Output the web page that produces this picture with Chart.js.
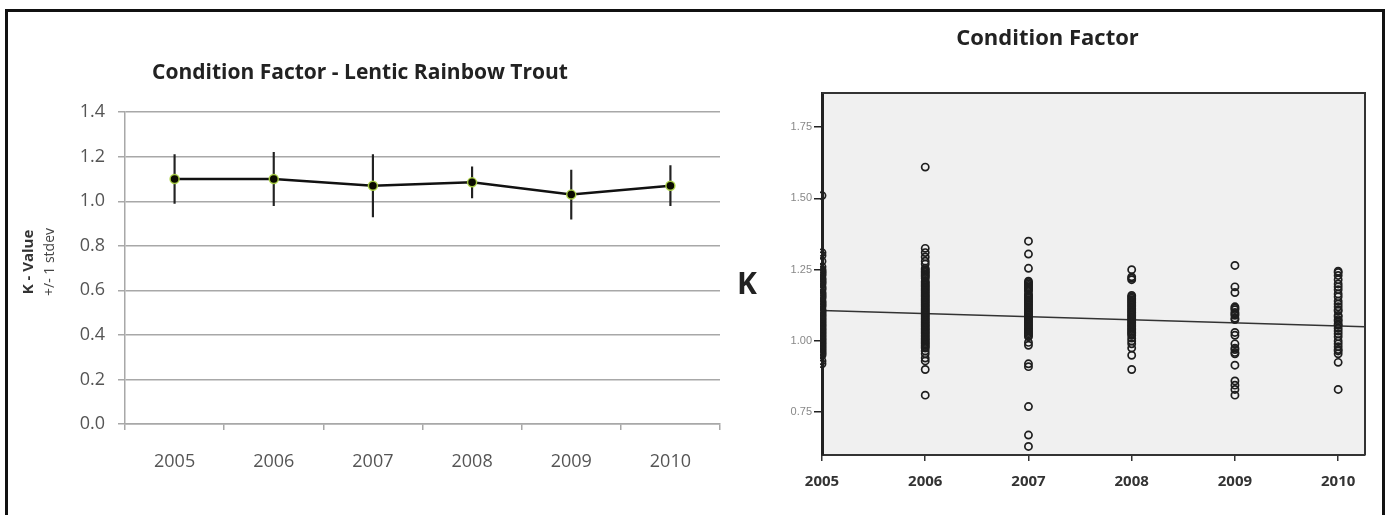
<!DOCTYPE html>
<html><head><meta charset="utf-8">
<script src="https://cdn.jsdelivr.net/npm/chart.js@4.4.1/dist/chart.umd.min.js"></script>
<style>
html,body{margin:0;padding:0;background:#fff;}
body{width:1389px;height:515px;position:relative;overflow:hidden;}
#frame{position:absolute;left:5px;top:9px;width:1380px;height:520px;border:3px solid #111;box-sizing:border-box;pointer-events:none;}
#c1{position:absolute;left:0;top:0;}
#c2{position:absolute;left:730px;top:0;}
</style></head><body>
<canvas id="c1" width="730" height="515"></canvas>
<canvas id="c2" width="654" height="515"></canvas>
<div id="frame"></div>
<script>
// ---------- Left chart data ----------
const years = ['2005', '2006', '2007', '2008', '2009', '2010'];
const meanK = [1.10, 1.10, 1.07, 1.085, 1.03, 1.07];
const sdK = [0.11, 0.12, 0.14, 0.07, 0.11, 0.09];
const leftTitle = 'Condition Factor - Lentic Rainbow Trout';
const leftYTitleMain = 'K - Value';
const leftYTitleSub = '+/- 1 stdev';

// ---------- Right chart data ----------
const rightTitle = 'Condition Factor';
const rightYTitle = 'K';
const scatterYears = [2005, 2006, 2007, 2008, 2009, 2010];
const k2005 = [1.51, 1.31, 1.30, 1.28, 1.26, 1.25, 1.245, 1.24, 1.235, 1.23, 1.22, 1.215, 1.21, 1.205, 1.20, 1.19, 1.185, 1.18, 1.17, 1.165, 1.16, 1.155, 1.15, 1.14, 1.135, 1.13, 1.125, 1.12, 1.11, 1.105, 1.10, 1.095, 1.09, 1.085, 1.08, 1.075, 1.07, 1.065, 1.06, 1.055, 1.05, 1.045, 1.04, 1.035, 1.03, 1.025, 1.02, 1.015, 1.01, 1.005, 1.00, 0.995, 0.99, 0.985, 0.98, 0.975, 0.97, 0.965, 0.96, 0.955, 0.95, 0.93, 0.92];
const k2006 = [1.61, 1.325, 1.31, 1.295, 1.28, 1.27, 1.255, 1.25, 1.245, 1.24, 1.235, 1.23, 1.225, 1.22, 1.21, 1.205, 1.20, 1.195, 1.19, 1.185, 1.18, 1.175, 1.17, 1.165, 1.16, 1.155, 1.15, 1.145, 1.14, 1.135, 1.13, 1.125, 1.12, 1.115, 1.11, 1.105, 1.10, 1.095, 1.09, 1.085, 1.08, 1.075, 1.07, 1.065, 1.06, 1.055, 1.05, 1.045, 1.04, 1.035, 1.03, 1.025, 1.02, 1.015, 1.01, 1.005, 1.00, 0.995, 0.99, 0.985, 0.98, 0.975, 0.965, 0.955, 0.94, 0.93, 0.90, 0.81];
const k2007 = [1.35, 1.305, 1.255, 1.21, 1.205, 1.20, 1.195, 1.19, 1.185, 1.18, 1.175, 1.165, 1.16, 1.155, 1.15, 1.145, 1.14, 1.135, 1.13, 1.125, 1.12, 1.115, 1.11, 1.105, 1.10, 1.095, 1.09, 1.085, 1.08, 1.075, 1.07, 1.065, 1.06, 1.055, 1.05, 1.045, 1.04, 1.035, 1.03, 1.025, 1.02, 1.015, 0.995, 0.985, 0.92, 0.91, 0.77, 0.67, 0.63];
const k2008 = [1.25, 1.225, 1.22, 1.215, 1.16, 1.155, 1.15, 1.145, 1.14, 1.135, 1.13, 1.125, 1.12, 1.115, 1.11, 1.105, 1.10, 1.095, 1.09, 1.085, 1.08, 1.075, 1.07, 1.065, 1.06, 1.055, 1.05, 1.045, 1.04, 1.035, 1.03, 1.025, 1.02, 1.01, 1.00, 0.99, 0.975, 0.95, 0.90];
const k2009 = [1.265, 1.19, 1.17, 1.12, 1.115, 1.11, 1.10, 1.095, 1.09, 1.08, 1.075, 1.03, 1.02, 0.99, 0.975, 0.97, 0.96, 0.955, 0.915, 0.86, 0.845, 0.83, 0.81];
const k2010 = [1.245, 1.24, 1.23, 1.215, 1.20, 1.19, 1.18, 1.165, 1.155, 1.14, 1.13, 1.12, 1.11, 1.105, 1.09, 1.085, 1.075, 1.07, 1.06, 1.055, 1.045, 1.035, 1.025, 1.015, 1.00, 0.99, 0.98, 0.97, 0.965, 0.955, 0.925, 0.83];
const fitX = [2005, 2010.26];
const fitK = [1.107, 1.050];
const rightYTicks = [0.75, 1.00, 1.25, 1.50, 1.75];

const FONT = 'Open Sans';

// ---------- Left chart ----------
const leftAxisTitle = {
  id: 'leftAxisTitle',
  afterDraw(chart) {
    const ctx = chart.ctx;
    ctx.save();
    ctx.textAlign = 'center';
    ctx.textBaseline = 'middle';
    ctx.translate(29, 262);
    ctx.rotate(-Math.PI / 2);
    ctx.font = 'bold 15px "' + FONT + '"';
    ctx.fillStyle = '#333';
    ctx.fillText(leftYTitleMain, 0, 0);
    ctx.restore();
    ctx.save();
    ctx.textAlign = 'center';
    ctx.textBaseline = 'middle';
    ctx.translate(50, 262);
    ctx.rotate(-Math.PI / 2);
    ctx.font = '14px "' + FONT + '"';
    ctx.fillStyle = '#444';
    ctx.fillText(leftYTitleSub, 0, 0);
    ctx.restore();
  }
};

const gridGray = '#a8a8a8';
new Chart(document.getElementById('c1'), {
  data: {
    labels: years,
    datasets: [
      {
        type: 'line', data: meanK, borderColor: '#111', borderWidth: 2.5, tension: 0,
        pointRadius: 4.5, pointBackgroundColor: '#0a0a00',
        pointBorderColor: 'rgba(175,215,70,0.9)', pointBorderWidth: 1.5, order: 0
      },
      {
        type: 'bar', data: meanK.map((m, i) => [m - sdK[i], m + sdK[i]]),
        backgroundColor: '#222', barThickness: 1.5, order: 1
      }
    ]
  },
  options: {
    responsive: false, animation: false, events: [],
    layout: { padding: { left: 0, right: 10, top: 0, bottom: 0 } },
    plugins: {
      legend: { display: false }, tooltip: { enabled: false },
      title: {
        display: true, text: leftTitle, color: '#222',
        font: { family: FONT, size: 21, weight: 'bold' },
        padding: { top: 60, bottom: 27 }
      }
    },
    scales: {
      x: {
        offset: true,
        grid: { offset: true, drawOnChartArea: false, drawTicks: true, tickLength: 6, color: gridGray, lineWidth: 1.5 },
        border: { color: gridGray, width: 1.5 },
        ticks: { font: { family: FONT, size: 18 }, color: '#555', padding: 21 },
        afterFit: s => { s.height = 91; }
      },
      y: {
        min: 0, max: 1.4,
        ticks: { stepSize: 0.2, callback: v => Number(v).toFixed(1), font: { family: FONT, size: 18 }, color: '#555', padding: 13 },
        grid: { color: gridGray, lineWidth: 1.5, tickLength: 7 },
        border: { color: gridGray, width: 1.5 },
        afterFit: s => { s.width = 125; }
      }
    }
  },
  plugins: [leftAxisTitle]
});

// ---------- Right chart ----------
const rightDecor = {
  id: 'rightDecor',
  beforeDraw(chart) {
    const a = chart.chartArea, ctx = chart.ctx;
    ctx.save();
    ctx.fillStyle = '#f0f0f0';
    ctx.fillRect(a.left, a.top, a.right - a.left, a.bottom - a.top);
    ctx.restore();
  },
  afterDraw(chart) {
    const a = chart.chartArea, ctx = chart.ctx;
    ctx.save();
    ctx.strokeStyle = '#333';
    ctx.lineWidth = 2;
    ctx.beginPath();
    ctx.moveTo(a.left, a.top);
    ctx.lineTo(a.right, a.top);
    ctx.lineTo(a.right, a.bottom);
    ctx.stroke();
    ctx.font = 'bold 30px "' + FONT + '"';
    ctx.fillStyle = '#222';
    ctx.textAlign = 'center';
    ctx.textBaseline = 'middle';
    ctx.fillText(rightYTitle, 17, 285);
    ctx.restore();
  }
};

const kByYear = [k2005, k2006, k2007, k2008, k2009, k2010];
const scatterPts = [];
kByYear.forEach((arr, i) => arr.forEach(v => scatterPts.push({ x: scatterYears[i], y: v })));

new Chart(document.getElementById('c2'), {
  type: 'scatter',
  data: {
    datasets: [
      {
        data: scatterPts, pointRadius: 3.6, pointBorderWidth: 1.7,
        pointBorderColor: '#1e1e1e', pointBackgroundColor: 'rgba(0,0,0,0)',
        clip: { left: 2, right: 5, top: 5, bottom: 5 }
      },
      {
        type: 'line', data: fitX.map((x, i) => ({ x: x, y: fitK[i] })),
        borderColor: '#333', borderWidth: 1.5, pointRadius: 0, showLine: true
      }
    ]
  },
  options: {
    responsive: false, animation: false, events: [],
    layout: { padding: { left: 0, right: 19, top: 0, bottom: 0 } },
    plugins: {
      legend: { display: false }, tooltip: { enabled: false },
      title: {
        display: true, text: rightTitle, color: '#222',
        font: { family: FONT, size: 22, weight: 'bold' },
        padding: { top: 26, bottom: 40.6 }
      }
    },
    scales: {
      x: {
        type: 'linear', min: 2005, max: 2010.26,
        afterBuildTicks: s => { s.ticks = scatterYears.map(v => ({ value: v })); },
        ticks: { callback: v => String(v), font: { family: FONT, size: 15, weight: 'bold' }, color: '#333', padding: 12, maxRotation: 0, autoSkip: false },
        grid: { drawOnChartArea: false, tickLength: 6, color: '#333', lineWidth: 1.5 },
        border: { color: '#333', width: 2 },
        afterFit: s => { s.height = 60; }
      },
      y: {
        min: 0.6, max: 1.87,
        afterBuildTicks: s => { s.ticks = rightYTicks.map(v => ({ value: v })); },
        ticks: { callback: v => Number(v).toFixed(2), font: { family: 'Liberation Sans', size: 11 }, color: '#888', padding: 2, autoSkip: false },
        grid: { drawOnChartArea: false, tickLength: 8, color: '#222', lineWidth: 1.5 },
        border: { color: '#222', width: 3 },
        afterFit: s => { s.width = 92; }
      }
    }
  },
  plugins: [rightDecor]
});
</script>
</body></html>
